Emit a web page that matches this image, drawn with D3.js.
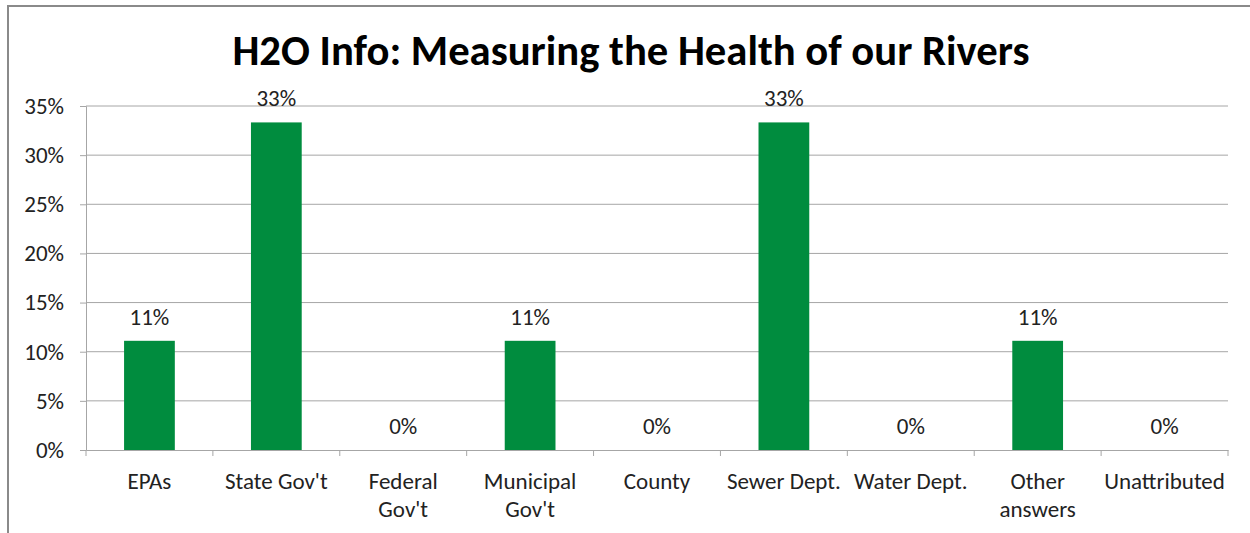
<!DOCTYPE html>
<html><head><meta charset="utf-8">
<script src="https://cdn.jsdelivr.net/npm/d3@7"></script>
<style>
html,body{margin:0;padding:0;background:#fff;}
svg{display:block;font-family:Carlito,Calibri,Lato,sans-serif;}
</style></head>
<body><svg id="c" width="1250" height="533"></svg>
<script>
const title = "H2O Info: Measuring the Health of our Rivers";
const categories = ["EPAs","State Gov't","Federal Gov't","Municipal Gov't","County","Sewer Dept.","Water Dept.","Other answers","Unattributed"];
const categoryLines = [["EPAs"],["State Gov't"],["Federal","Gov't"],["Municipal","Gov't"],["County"],["Sewer Dept."],["Water Dept."],["Other","answers"],["Unattributed"]];
const values = [11.11,33.33,0,11.11,0,33.33,0,11.11,0];
const valueLabels = ["11%","33%","0%","11%","0%","33%","0%","11%","0%"];
const yTicks = [0,5,10,15,20,25,30,35];

const FS = 23;
const svg = d3.select("#c");
// outer frame
svg.append("rect").attr("x",8).attr("y",6).attr("width",1260).attr("height",560)
  .attr("fill","none").attr("stroke","#8a8a8a").attr("stroke-width",2);

const L=86,R=1228,T=106,B=450;
const x = d3.scaleBand().domain(categories).range([L,R]).paddingInner(0.6).paddingOuter(0.3);
const xb = d3.scaleBand().domain(categories).range([L,R]);
const y = d3.scaleLinear().domain([0,35]).range([B,T]);

// gridlines
svg.append("g").selectAll("line").data(yTicks.filter(d=>d>0)).join("line")
  .attr("x1",L).attr("x2",R).attr("y1",d=>y(d)).attr("y2",d=>y(d))
  .attr("stroke","#a6a6a6").attr("stroke-width",1);

// y axis
const ya = svg.append("g").attr("transform",`translate(${L},0)`)
  .call(d3.axisLeft(y).tickValues(yTicks).tickFormat(d=>d+"%").tickSize(6).tickPadding(16));
ya.select(".domain").attr("stroke","#a6a6a6");
ya.selectAll(".tick line").attr("stroke","#a6a6a6");
ya.selectAll("text").attr("font-size",FS).attr("fill","#222").attr("font-family","Carlito,Calibri,Lato,sans-serif");

// bars
svg.append("g").selectAll("rect").data(values).join("rect")
  .attr("x",(d,i)=>x(categories[i])).attr("width",x.bandwidth())
  .attr("y",d=>y(d)).attr("height",d=>B-y(d)).attr("fill","#008C3E");

// x axis
const xa = svg.append("g").attr("transform",`translate(0,${B})`)
  .call(d3.axisBottom(xb).tickSize(0).tickFormat(""));
xa.select(".domain").attr("stroke","#a6a6a6");
xa.selectAll(".tick").remove();
svg.append("g").selectAll("line").data(d3.range(categories.length+1)).join("line")
  .attr("x1",i=>L+i*xb.bandwidth()).attr("x2",i=>L+i*xb.bandwidth())
  .attr("y1",B).attr("y2",B+6).attr("stroke","#a6a6a6");

// x labels
const xl = svg.append("g").selectAll("text").data(categoryLines).join("text")
  .attr("text-anchor","middle").attr("font-size",FS).attr("fill","#222")
  .attr("x",(d,i)=>xb(categories[i])+xb.bandwidth()/2).attr("y",489);
xl.selectAll("tspan").data(d=>d).join("tspan")
  .attr("x",function(){return this.parentNode.getAttribute("x");})
  .attr("dy",(d,j)=>j===0?0:28).text(d=>d);

// value labels
svg.append("g").selectAll("text").data(values).join("text")
  .attr("text-anchor","middle").attr("font-size",FS).attr("fill","#222")
  .attr("x",(d,i)=>xb(categories[i])+xb.bandwidth()/2).attr("y",d=>y(d)-16)
  .text((d,i)=>valueLabels[i]);

// title
svg.append("text").attr("x",631).attr("y",65).attr("text-anchor","middle")
  .attr("font-size",42.7).attr("font-weight","bold").attr("fill","#000").text(title);
</script></body></html>
